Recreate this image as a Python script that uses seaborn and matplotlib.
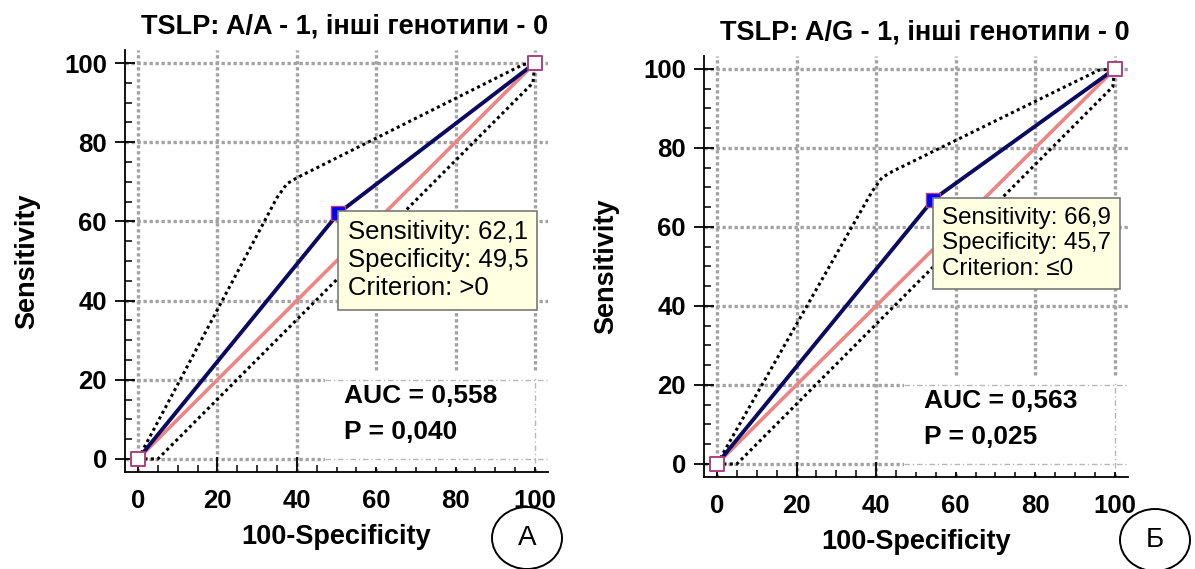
import matplotlib
matplotlib.use("Agg")
import matplotlib.pyplot as plt
import seaborn as sns
import pandas as pd
from matplotlib.patches import Rectangle, Ellipse

# ---------------- data ----------------
titles = ["TSLP: A/A - 1, інші генотипи - 0", "TSLP: A/G - 1, інші генотипи - 0"]
panel_letters = ["А", "Б"]

roc_a_x = [0, 50.5, 100]
roc_a_y = [0, 62.1, 100]
roc_b_x = [0, 54.3, 100]
roc_b_y = [0, 66.9, 100]

upper_a_x = [0, 35, 37.5, 40, 97, 100]
upper_a_y = [0, 66, 69.5, 71, 99.6, 100]
lower_a_x = [0, 5, 99.5, 100]
lower_a_y = [0, 0, 95, 100]

upper_b_x = [0, 39, 41.5, 44, 96, 100]
upper_b_y = [0, 69, 72.5, 74, 99.7, 100]
lower_b_x = [0, 5, 99.5, 100]
lower_b_y = [0, 0, 95.5, 100]

sensitivity = ["62,1", "66,9"]
specificity = ["49,5", "45,7"]
criterion = [">0", "≤0"]
auc_text = ["0,558", "0,563"]
p_text = ["0,040", "0,025"]

x_ticks = [0, 20, 40, 60, 80, 100]
y_ticks = [0, 20, 40, 60, 80, 100]

# ---------------- style ----------------
sns.set_theme(style="white")
plt.rcParams["font.family"] = ["Liberation Sans", "DejaVu Sans"]
plt.rcParams["text.color"] = "black"
plt.rcParams["axes.labelcolor"] = "black"
plt.rcParams["xtick.color"] = "black"
plt.rcParams["ytick.color"] = "black"

fig = plt.figure(figsize=(11.95, 5.69), dpi=100)
axes = [fig.add_axes([0.1046, 0.1705, 0.354, 0.7417]),
        fig.add_axes([0.589, 0.1617, 0.3548, 0.740])]

panels = [
    (roc_a_x, roc_a_y, upper_a_x, upper_a_y, lower_a_x, lower_a_y),
    (roc_b_x, roc_b_y, upper_b_x, upper_b_y, lower_b_x, lower_b_y),
]
tip_sizes = [18.5, 17.4]

grid_kw = dict(color="#a3a3a3", lw=2.4, ls=(0, (1, 0.8)), zorder=0.5)
thin_kw = dict(color="#b8b8b8", lw=1.0, ls=(0, (4, 2, 1, 2)), zorder=0.9)

for i, ax in enumerate(axes):
    rx, ry, ux, uy, lx, ly = panels[i]
    lo, hi = -3.3, 103.3
    ax.set_xlim(lo, hi)
    ax.set_ylim(lo, hi)

    # grid
    for t in x_ticks:
        ax.axvline(t, **grid_kw)
    for t in y_ticks:
        ax.axhline(t, **grid_kw)

    # AUC box (white, hides grid) with faint grid inside
    ax.add_patch(Rectangle((47, -2), 56.3, 24, facecolor="white", edgecolor="none",
                           zorder=0.8))
    ax.hlines([y_ticks[0], y_ticks[1]], 47, 103, **thin_kw)
    ax.vlines([x_ticks[-1]], -1, 21, **thin_kw)

    # diagonal reference
    sns.lineplot(x=[0, 100], y=[0, 100], ax=ax, color="#ee8585", lw=2.6,
                 sort=False, zorder=2)
    # confidence bounds
    sns.lineplot(x=ux, y=uy, ax=ax, color="black", lw=2.2, ls=(0, (1, 1.1)),
                 sort=False, zorder=3)
    sns.lineplot(x=lx, y=ly, ax=ax, color="black", lw=2.2, ls=(0, (1, 1.1)),
                 sort=False, zorder=3)
    # ROC
    sns.lineplot(x=rx, y=ry, ax=ax, color="#0a0a60", lw=2.8, sort=False, zorder=4)
    # end markers
    sns.scatterplot(x=[rx[0], rx[-1]], y=[ry[0], ry[-1]], ax=ax, marker="s", s=110,
                    facecolor="white", edgecolor="#b0407a", linewidth=1.4, zorder=5)
    # cut-off marker
    sns.scatterplot(x=[rx[1]], y=[ry[1]], ax=ax, marker="s", s=110,
                    color="#0000ff", edgecolor="#b0407a", linewidth=1.0, zorder=6)

    # tooltip
    ax.annotate(f"Sensitivity: {sensitivity[i]}\nSpecificity: {specificity[i]}\nCriterion: {criterion[i]}",
                xy=(rx[1], ry[1]), xytext=(6.5, -5), textcoords="offset points",
                ha="left", va="top", fontsize=tip_sizes[i], linespacing=1.22, color="black",
                bbox=dict(boxstyle="square,pad=0.36", fc="#ffffe1", ec="#7a7a7a", lw=1.2),
                zorder=7)

    # AUC text
    ax.text(52, 16, f"AUC = {auc_text[i]}", fontsize=19, fontweight="bold",
            ha="left", va="center", zorder=7)
    ax.text(52, 6.8, f"P = {p_text[i]}", fontsize=19, fontweight="bold",
            ha="left", va="center", zorder=7)

    # spines / ticks
    for s in ["top", "right"]:
        ax.spines[s].set_visible(False)
    for s in ["left", "bottom"]:
        ax.spines[s].set_color("black")
        ax.spines[s].set_linewidth(1.3)
    ax.set_xticks(x_ticks)
    ax.set_yticks(y_ticks)
    ax.set_xticks(range(0, 101, 5), minor=True)
    ax.set_yticks(range(0, 101, 5), minor=True)
    ax.set_xticklabels([str(t) for t in x_ticks])
    ax.set_yticklabels([str(t) for t in y_ticks])
    ax.tick_params(axis="x", which="major", direction="in", length=11, width=1.3,
                   pad=12, labelsize=18.5, colors="black")
    ax.tick_params(axis="y", which="major", direction="inout", length=14, width=1.3,
                   pad=6, labelsize=18.5, colors="black")
    ax.tick_params(which="minor", direction="in", length=5, width=1.1, colors="black")
    ax.tick_params(bottom=True, left=True)
    ax.tick_params(which="minor", bottom=True, left=True)
    for lab in ax.get_xticklabels() + ax.get_yticklabels():
        lab.set_fontweight("bold")

    ax.set_title(titles[i], fontsize=19.5, fontweight="bold", pad=12, color="black",
                 x=0.52)
    ax.set_xlabel("100-Specificity", fontsize=19.5, fontweight="bold", labelpad=8)
    ax.set_ylabel("Sensitivity", fontsize=19.5, fontweight="bold", labelpad=17)

# circled panel letters
for (cx, cy), letter in zip([(527, 538), (1155, 540)], panel_letters):
    fx, fy = cx / 1195, 1 - cy / 569
    fig.patches.append(Ellipse((fx, fy), 70 / 1195, 62 / 569, transform=fig.transFigure,
                               facecolor="none", edgecolor="black", lw=1.4))
    fig.text(fx, fy, letter, fontsize=20, ha="center", va="center")

fig.savefig("out.png", dpi=100)
